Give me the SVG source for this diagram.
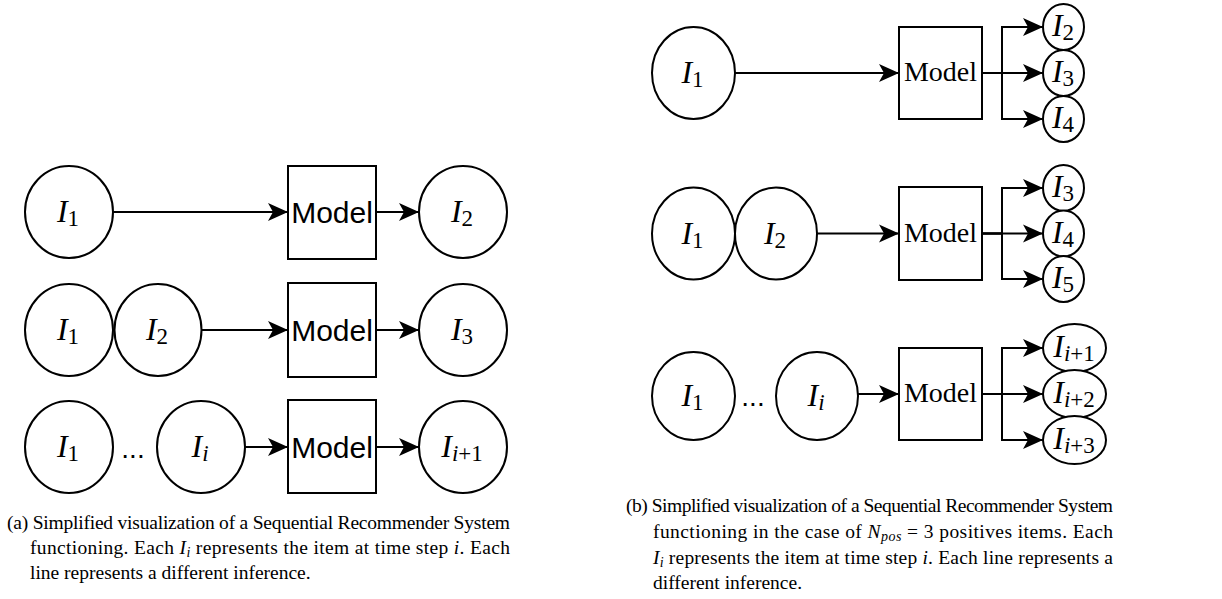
<svg xmlns="http://www.w3.org/2000/svg" width="1222" height="599" viewBox="0 0 1222 599">
<defs>
<marker id="ah" markerUnits="userSpaceOnUse" markerWidth="20" markerHeight="18" refX="20" refY="9" orient="auto" overflow="visible">
<path d="M0,0 L20,9 L0,18 L5,9 Z" fill="#000"/>
</marker>
<style>
.n{fill:#fff;stroke:#000;stroke-width:2}
.e{fill:none;stroke:#000;stroke-width:2;marker-end:url(#ah)}
.m{font-family:"Liberation Serif",serif;font-size:32px;font-style:italic}
.sub{font-style:normal;font-size:23px}
.si{font-style:italic}
.ms{font-family:"Liberation Sans",Arial,sans-serif;font-size:30px}
.mr{font-family:"Liberation Serif",serif;font-size:28px}
.cap{font-family:"Liberation Serif",serif;font-size:19.5px}
.dots{font-family:"Liberation Sans",Arial,sans-serif;font-size:28px}
</style>
</defs>
<rect width="1222" height="599" fill="#fff"/>

<g id="connectors">
<path class="e" d="M113,212 H288"/>
<path class="e" d="M376,212 H419"/>
<path class="e" d="M201,330 H288"/>
<path class="e" d="M376,330 H419"/>
<path class="e" d="M245,447 H288"/>
<path class="e" d="M376,447 H419"/>
<path class="e" d="M735,73 H899"/>
<path class="e" d="M982,73 H1002 V27 H1043"/>
<path class="e" d="M982,73 H1043"/>
<path class="e" d="M982,73 H1002 V119 H1043"/>
<path class="e" d="M817,233.5 H899"/>
<path class="e" d="M982,233.5 H1002 V188 H1043"/>
<path class="e" d="M982,233.5 H1043"/>
<path class="e" d="M982,233.5 H1002 V279 H1043"/>
<path class="e" d="M858,394 H899"/>
<path class="e" d="M982,394 H1002 V348 H1043"/>
<path class="e" d="M982,394 H1043"/>
<path class="e" d="M982,394 H1002 V440 H1043"/>
</g>

<g id="a1-i1"><ellipse class="n" cx="69" cy="212" rx="44" ry="46"/><text class="m" x="68" y="222" text-anchor="middle">I<tspan class="sub" dy="4">1</tspan></text></g>
<g id="a1-model"><rect class="n" x="288" y="166" width="88" height="93"/><text class="ms" x="332" y="223" text-anchor="middle">Model</text></g>
<g id="a1-i2"><ellipse class="n" cx="463" cy="212" rx="44" ry="46"/><text class="m" x="462" y="222" text-anchor="middle">I<tspan class="sub" dy="4">2</tspan></text></g>

<g id="a2-i1"><ellipse class="n" cx="69" cy="330" rx="44" ry="46"/><text class="m" x="68" y="340" text-anchor="middle">I<tspan class="sub" dy="4">1</tspan></text></g>
<g id="a2-i2"><ellipse class="n" cx="158" cy="330" rx="43.5" ry="46"/><text class="m" x="157" y="340" text-anchor="middle">I<tspan class="sub" dy="4">2</tspan></text></g>
<g id="a2-model"><rect class="n" x="288" y="283" width="88" height="94"/><text class="ms" x="332" y="341" text-anchor="middle">Model</text></g>
<g id="a2-i3"><ellipse class="n" cx="463" cy="330" rx="44" ry="46"/><text class="m" x="462" y="340" text-anchor="middle">I<tspan class="sub" dy="4">3</tspan></text></g>

<g id="a3-i1"><ellipse class="n" cx="69" cy="447" rx="44" ry="46"/><text class="m" x="68" y="457" text-anchor="middle">I<tspan class="sub" dy="4">1</tspan></text></g>
<g id="a3-dots"><text class="dots" x="133" y="458" text-anchor="middle">...</text></g>
<g id="a3-ii"><ellipse class="n" cx="201" cy="447" rx="44" ry="46"/><text class="m" x="200" y="457" text-anchor="middle">I<tspan class="sub" dy="4"><tspan class="si">i</tspan></tspan></text></g>
<g id="a3-model"><rect class="n" x="288" y="400" width="88" height="93"/><text class="ms" x="332" y="458" text-anchor="middle">Model</text></g>
<g id="a3-ii1"><ellipse class="n" cx="463" cy="447" rx="44" ry="46"/><text class="m" x="462" y="457" text-anchor="middle">I<tspan class="sub" dy="4"><tspan class="si">i</tspan>+1</tspan></text></g>

<g id="b1-i1"><ellipse class="n" cx="693.5" cy="73" rx="41.5" ry="46"/><text class="m" x="692.5" y="83" text-anchor="middle">I<tspan class="sub" dy="4">1</tspan></text></g>
<g id="b1-model"><rect class="n" x="899" y="27" width="83" height="92"/><text class="mr" x="940.5" y="81" text-anchor="middle">Model</text></g>
<g id="b1-i2"><ellipse class="n" cx="1063.5" cy="27" rx="20.5" ry="23"/><text class="m" x="1063" y="36" text-anchor="middle">I<tspan class="sub" dy="4">2</tspan></text></g>
<g id="b1-i3"><ellipse class="n" cx="1063.5" cy="73" rx="20.5" ry="23"/><text class="m" x="1063" y="82" text-anchor="middle">I<tspan class="sub" dy="4">3</tspan></text></g>
<g id="b1-i4"><ellipse class="n" cx="1063.5" cy="119" rx="20.5" ry="23"/><text class="m" x="1063" y="128" text-anchor="middle">I<tspan class="sub" dy="4">4</tspan></text></g>

<g id="b2-i1"><ellipse class="n" cx="693.5" cy="233.5" rx="41.5" ry="46"/><text class="m" x="692.5" y="243.5" text-anchor="middle">I<tspan class="sub" dy="4">1</tspan></text></g>
<g id="b2-i2"><ellipse class="n" cx="776" cy="233.5" rx="41" ry="46"/><text class="m" x="775" y="243.5" text-anchor="middle">I<tspan class="sub" dy="4">2</tspan></text></g>
<g id="b2-model"><rect class="n" x="899" y="187" width="83" height="93"/><text class="mr" x="940.5" y="241.5" text-anchor="middle">Model</text></g>
<g id="b2-i3"><ellipse class="n" cx="1063.5" cy="188" rx="20.5" ry="23"/><text class="m" x="1063" y="197" text-anchor="middle">I<tspan class="sub" dy="4">3</tspan></text></g>
<g id="b2-i4"><ellipse class="n" cx="1063.5" cy="233.5" rx="20.5" ry="23"/><text class="m" x="1063" y="242.5" text-anchor="middle">I<tspan class="sub" dy="4">4</tspan></text></g>
<g id="b2-i5"><ellipse class="n" cx="1063.5" cy="279" rx="20.5" ry="23"/><text class="m" x="1063" y="288" text-anchor="middle">I<tspan class="sub" dy="4">5</tspan></text></g>

<g id="b3-i1"><ellipse class="n" cx="693.5" cy="396" rx="41.5" ry="44"/><text class="m" x="692.5" y="406" text-anchor="middle">I<tspan class="sub" dy="4">1</tspan></text></g>
<g id="b3-dots"><text class="dots" x="753" y="406" text-anchor="middle">...</text></g>
<g id="b3-ii"><ellipse class="n" cx="817" cy="396" rx="41" ry="44"/><text class="m" x="816" y="406" text-anchor="middle">I<tspan class="sub" dy="4"><tspan class="si">i</tspan></tspan></text></g>
<g id="b3-model"><rect class="n" x="899" y="348" width="83" height="92"/><text class="mr" x="940.5" y="402" text-anchor="middle">Model</text></g>
<g id="b3-ii1"><ellipse class="n" cx="1074.5" cy="348" rx="31.5" ry="24"/><text class="m" x="1074" y="357" text-anchor="middle">I<tspan class="sub" dy="4"><tspan class="si">i</tspan>+1</tspan></text></g>
<g id="b3-ii2"><ellipse class="n" cx="1074.5" cy="394" rx="31.5" ry="24"/><text class="m" x="1074" y="403" text-anchor="middle">I<tspan class="sub" dy="4"><tspan class="si">i</tspan>+2</tspan></text></g>
<g id="b3-ii3"><ellipse class="n" cx="1074.5" cy="440" rx="31.5" ry="24"/><text class="m" x="1074" y="449" text-anchor="middle">I<tspan class="sub" dy="4"><tspan class="si">i</tspan>+3</tspan></text></g>

<g id="caption-a" class="cap">
<text x="7" y="529" textLength="503" lengthAdjust="spacing">(a) Simplified visualization of a Sequential Recommender System</text>
<text x="30" y="554" textLength="480" lengthAdjust="spacing">functioning. Each <tspan font-style="italic">I</tspan><tspan font-size="14" font-style="italic" dy="3">i</tspan><tspan dy="-3"> represents the item at time step </tspan><tspan font-style="italic">i</tspan>. Each</text>
<text x="30" y="579">line represents a different inference.</text>
</g>
<g id="caption-b" class="cap">
<text x="626" y="512" textLength="487" lengthAdjust="spacing">(b) Simplified visualization of a Sequential Recommender System</text>
<text x="653" y="538" textLength="460" lengthAdjust="spacing">functioning in the case of <tspan font-style="italic">N</tspan><tspan font-size="14" font-style="italic" dy="3">pos</tspan><tspan dy="-3"> = 3 positives items. Each</tspan></text>
<text x="653" y="564" textLength="460" lengthAdjust="spacing"><tspan font-style="italic">I</tspan><tspan font-size="14" font-style="italic" dy="3">i</tspan><tspan dy="-3"> represents the item at time step </tspan><tspan font-style="italic">i</tspan>. Each line represents a</text>
<text x="653" y="589">different inference.</text>
</g>
</svg>
